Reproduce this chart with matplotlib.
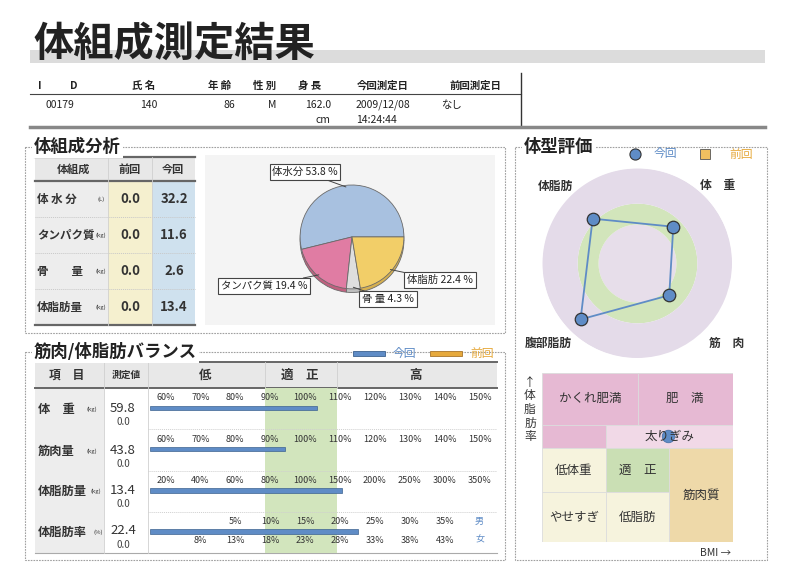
import numpy as np
import matplotlib
matplotlib.use("Agg")
import matplotlib.pyplot as plt
from matplotlib.patches import Rectangle

plt.rcParams['font.family'] = ['Noto Sans CJK JP', 'DejaVu Sans']

W, H = 800, 570

# header record
head_labels = ["I", "D", "氏 名", "年 齢", "性 別", "身 長", "今回測定日", "前回測定日"]
head_values = ["00179", "140", "86", "M", "162.0", "2009/12/08", "なし"]
head_values2 = ["", "", "", "", "cm", "14:24:44", ""]

# body composition table + pie
comp_labels = ["体 水 分", "タンパク質", "骨　　量", "体脂肪量"]
comp_units = ["(L)", "(kg)", "(kg)", "(kg)"]
comp_prev = [0.0, 0.0, 0.0, 0.0]
comp_now = [32.2, 11.6, 2.6, 13.4]
pie_labels = ["体水分", "タンパク質", "骨 量", "体脂肪"]
pie_pct = [53.8, 19.4, 4.3, 22.4]

# muscle / fat balance
bal_items = ["体　重", "筋肉量", "体脂肪量", "体脂肪率"]
bal_units = ["(kg)", "(kg)", "(kg)", "(%)"]
bal_now = [59.8, 43.8, 13.4, 22.4]
bal_prev = [0.0, 0.0, 0.0, 0.0]
bal_gauge = [4.84, 3.93, 5.56, 6.02]   # bar end, in scale slots (0-10)
weight_ticks = ["60%", "70%", "80%", "90%", "100%", "110%", "120%", "130%", "140%", "150%"]
muscle_ticks = weight_ticks
fatmass_ticks = ["20%", "40%", "60%", "80%", "100%", "150%", "200%", "250%", "300%", "350%"]
fatpct_male = ["", "", "5%", "10%", "15%", "20%", "25%", "30%", "35%", "男"]
fatpct_female = ["", "8%", "13%", "18%", "23%", "28%", "33%", "38%", "43%", "女"]

# body type radar
radar_axes = ["体重", "体脂肪", "腹部脂肪", "筋肉"]
radar_angles = [45, 135, 225, 315]
radar_now = [54, 66, 84, 48]
radar_rings = [0, 41, 63, 100]

# body type matrix (BMI x body fat)
zone_labels = ["かくれ肥満", "", "肥　満", "太りぎみ", "低体重", "適　正", "筋肉質", "やせすぎ", "低脂肪"]
zone_bmi = [(0, 1.5), (0, 1), (1.5, 3), (1, 3), (0, 1), (1, 2), (2, 3), (0, 1), (1, 2)]
zone_fat = [(2.5, 3.6), (2.0, 2.5), (2.5, 3.6), (2.0, 2.5), (1.06, 2.0), (1.06, 2.0),
            (0, 2.0), (0, 1.06), (0, 1.06)]
zone_colors = ["#e6b9d3", "#e6b9d3", "#e6b9d3", "#f1d9e7", "#f6f3dd", "#cadfb4",
               "#eed9a9", "#f6f3dd", "#f6f3dd"]
my_bmi, my_fat = 1.98, 2.26

BLUE = "#5f8cc6"
ORANGE = "#e6a93c"


def frac(x0, y0, x1, y1):
    return [x0 / W, 1 - y1 / H, (x1 - x0) / W, (y1 - y0) / H]


fig = plt.figure(figsize=(8, 5.7), dpi=100)
fig.patch.set_facecolor("white")
bg = fig.add_axes([0, 0, 1, 1])
bg.set_xlim(0, W)
bg.set_ylim(H, 0)
bg.axis("off")

# ---- title and header ----
bg.add_patch(Rectangle((30, 50), 735, 13, color="#dcdcdc", lw=0))
bg.text(33, 44, "体組成測定結果", fontsize=29, fontweight="bold", color="#222", va="center")

head_x = [38, 70, 132, 208, 253, 298, 357, 449]
for lab, x in zip(head_labels, head_x):
    bg.text(x, 86, lab, fontsize=7.5, fontweight="bold", color="#222", va="center")
val_x = [45, 140, 224, 268, 305, 356, 441]
for v, v2, x in zip(head_values, head_values2, val_x):
    bg.text(x, 105, v, fontsize=7.5, color="#222", va="center")
    if v2:
        bg.text(x + (10 if v2 == "cm" else 0), 120, v2, fontsize=7.5, color="#222", va="center")
bg.plot([30, 521], [94, 94], color="#444", lw=0.8)
bg.plot([521, 521], [73, 127], color="#333", lw=1)
bg.plot([30, 765], [127, 127], color="#888", lw=2.5)


def section(x0, y0, x1, y1, title):
    bg.add_patch(Rectangle((x0, y0), x1 - x0, y1 - y0, fill=False, ec="#a0a0a0",
                           lw=0.8, ls=(0, (1.5, 1))))
    bg.text(x0 + 9, y0, title, fontsize=12.5, fontweight="bold", color="#222",
            va="center", bbox=dict(fc="white", ec="none", pad=1.5))


section(25, 147, 505, 333, "体組成分析")
section(25, 352, 505, 560, "筋肉/体脂肪バランス")
section(515, 147, 767, 560, "体型評価")

# ---- body composition table ----
bg.add_patch(Rectangle((35, 157), 160, 24, color="#e8e8e8", lw=0))
bg.add_patch(Rectangle((35, 181), 73, 144, color="#ededed", lw=0))
bg.add_patch(Rectangle((108, 181), 44, 144, color="#f5f0cf", lw=0))
bg.add_patch(Rectangle((152, 181), 43, 144, color="#cfe1ee", lw=0))
for yy, lw in [(157, 1.6), (181, 1.6), (325, 1.6)]:
    bg.plot([35, 195], [yy, yy], color="#666", lw=lw)
for yy in [217, 253, 289]:
    bg.plot([35, 195], [yy, yy], color="#c8c8c8", lw=0.7, ls=(0, (1, 1)))
for xx in [108, 152]:
    bg.plot([xx, xx], [157, 325], color="#d0d0d0", lw=0.6)
bg.text(73, 169, "体組成", fontsize=8, fontweight="bold", color="#333", ha="center", va="center")
bg.text(130, 169, "前回", fontsize=8, fontweight="bold", color="#333", ha="center", va="center")
bg.text(173, 169, "今回", fontsize=8, fontweight="bold", color="#333", ha="center", va="center")
for i, (lab, unit, pv, nv) in enumerate(zip(comp_labels, comp_units, comp_prev, comp_now)):
    yc = 199 + 36 * i
    bg.text(37, yc, lab, fontsize=8.3, fontweight="bold", color="#333", va="center")
    bg.text(101, yc, unit, fontsize=4.3, color="#333", ha="center", va="center")
    bg.text(130, yc, f"{pv:.1f}", fontsize=9.5, fontweight="bold", color="#333", ha="center", va="center")
    bg.text(174, yc, f"{nv:.1f}", fontsize=9.5, fontweight="bold", color="#333", ha="center", va="center")

# ---- pie ----
bg.add_patch(Rectangle((205, 155), 290, 170, color="#f4f4f4", lw=0))
pie_colors = ["#a8c1e0", "#e07ca3", "#dedede", "#f2ce68"]
pie_dark = ["#8aa3c2", "#c0607f", "#bdbdbd", "#d6b050"]
pax = fig.add_axes(frac(300, 185, 404, 293))
wp = dict(edgecolor="#6a6a6a", linewidth=0.6)
pax.pie(pie_pct, colors=pie_dark, startangle=0, counterclock=True, center=(0, -0.07), wedgeprops=wp)
wedges, _ = pax.pie(pie_pct, colors=pie_colors, startangle=0, counterclock=True, wedgeprops=wp)
pax.set_xlim(-1, 1)
pax.set_ylim(-1.08, 1)
pax.axis("off")
box_pos = [(305, 172), (264, 286), (388, 299), (440, 280)]
for w, lab, pct, pos in zip(wedges, pie_labels, pie_pct, box_pos):
    mid = np.deg2rad((w.theta1 + w.theta2) / 2)
    pax.annotate(f"{lab} {pct} %", xy=(0.97 * np.cos(mid), 0.97 * np.sin(mid)),
                 xytext=pos, textcoords=bg.transData, ha="center", va="center",
                 fontsize=7.5, color="#222", annotation_clip=False,
                 bbox=dict(boxstyle="square,pad=0.25", fc="white", ec="#444", lw=0.8),
                 arrowprops=dict(arrowstyle="-", color="#444", lw=0.7, shrinkA=0, shrinkB=0))

# ---- balance table ----
bg.add_patch(Rectangle((35, 362), 462, 26, color="#e8e8e8", lw=0))
bg.add_patch(Rectangle((35, 388), 69, 165, color="#ededed", lw=0))
bg.plot([35, 497], [362, 362], color="#666", lw=1.4)
bg.plot([35, 497], [388, 388], color="#666", lw=1.4)
bg.plot([35, 497], [553, 553], color="#aaa", lw=0.8)
for xx in [104, 148]:
    bg.plot([xx, xx], [362, 553], color="#d0d0d0", lw=0.6)
for xx in [265, 337]:
    bg.plot([xx, xx], [362, 388], color="#d0d0d0", lw=0.6)
for txt, xx, fs in [("項　目", 67, 8.5), ("測定値", 126, 7), ("低", 205, 9), ("適　正", 300, 9), ("高", 415, 9)]:
    bg.text(xx, 375, txt, fontsize=fs, fontweight="bold", color="#333", ha="center", va="center")
# legend
bg.add_patch(Rectangle((353, 351), 32, 5, fc=BLUE, ec="#3d628f", lw=0.6))
bg.text(393, 353, "今回", fontsize=8.5, color=BLUE, va="center")
bg.add_patch(Rectangle((430, 351), 32, 5, fc=ORANGE, ec="#a9752a", lw=0.6))
bg.text(470, 353, "前回", fontsize=8.5, color=ORANGE, va="center")

row_top = [388, 430, 470, 511]
unit_x = [92, 92, 96, 98]
for i, (item, unit, nv, pv) in enumerate(zip(bal_items, bal_units, bal_now, bal_prev)):
    yc = row_top[i] + 21
    bg.text(38, yc, item, fontsize=8.8, fontweight="bold", color="#333", va="center")
    bg.text(unit_x[i], yc, unit, fontsize=4.3, color="#333", ha="center", va="center")
    bg.text(123, yc - 1, f"{nv:.1f}", fontsize=9.5, color="#333", ha="center", va="center")
    bg.text(123, yc + 13, f"{pv:.1f}", fontsize=7, color="#444", ha="center", va="center")

bax = fig.add_axes(frac(148, 388, 497, 553))
bax.set_xlim(0, 10)
bax.set_ylim(4, 0)
bax.axis("off")
bax.axvspan(3.35, 5.42, color="#d2e5bd", lw=0)
for r in [1, 2, 3]:
    bax.axhline(r, color="#cfcfcf", lw=0.7, ls=(0, (1, 1)))
slots = np.arange(10) + 0.5
for r, ticks in enumerate([weight_ticks, muscle_ticks, fatmass_ticks]):
    for x, t in zip(slots, ticks):
        bax.text(x, r + 0.24, t, fontsize=6.5, color="#333", ha="center", va="center")
for x, t in zip(slots, fatpct_male):
    bax.text(x, 3.24, t, fontsize=6.5, color=BLUE if t == "男" else "#333", ha="center", va="center")
for x, t in zip(slots, fatpct_female):
    bax.text(x, 3.69, t, fontsize=6.5, color=BLUE if t == "女" else "#333", ha="center", va="center")
rows = np.arange(len(bal_items)) + 0.48
bax.barh(rows, np.array(bal_gauge) - 0.06, left=0.06, height=0.11, color=BLUE,
         edgecolor="#3d628f", linewidth=0.5)

# ---- radar ----
for txt, (x, y) in zip(["体脂肪", "体　重", "腹部脂肪", "筋　肉"],
                       [(555, 186), (718, 186), (548, 343), (727, 343)]):
    bg.text(x, y, txt, fontsize=8.5, fontweight="bold", color="#333", ha="center", va="center")
bg.plot([635], [154], "o", ms=8, mfc=BLUE, mec="#333", mew=0.8)
bg.text(665, 154, "今回", fontsize=8.5, color=BLUE, ha="center", va="center")
bg.add_patch(Rectangle((700, 149), 10, 10, fc="#f0c060", ec="#555", lw=0.6))
bg.text(741, 154, "前回", fontsize=8.5, color=ORANGE, ha="center", va="center")

rax = fig.add_axes(frac(542, 168, 732, 358), projection="polar")
rax.set_ylim(0, 100)
rax.axis("off")
th = np.linspace(0, 2 * np.pi, 200)
for r0, r1, c in zip(radar_rings[:-1], radar_rings[1:], ["#e7deea", "#d2e5bb", "#e4dbe9"]):
    rax.fill_between(th, r0, r1, color=c, lw=0)
ang = np.deg2rad(radar_angles + radar_angles[:1])
vals = radar_now + radar_now[:1]
rax.plot(ang, vals, color=BLUE, lw=1.3)
rax.plot(ang[:-1], vals[:-1], "o", ms=9, mfc=BLUE, mec="#333", mew=0.9)

# ---- body type matrix ----
gax = fig.add_axes(frac(542, 373, 733, 542))
gax.set_xlim(0, 3)
gax.set_ylim(0, 3.6)
gax.axis("off")
for lab, (x0, x1), (y0, y1), c in zip(zone_labels, zone_bmi, zone_fat, zone_colors):
    gax.add_patch(Rectangle((x0, y0), x1 - x0, y1 - y0, fc=c, ec="#dcdcdc", lw=0.6))
for lab, (x0, x1), (y0, y1) in zip(zone_labels, zone_bmi, zone_fat):
    if lab:
        gax.text((x0 + x1) / 2, (y0 + y1) / 2, lab, fontsize=9, color="#333", ha="center", va="center")
gax.plot([my_bmi], [my_fat], "o", ms=9, mfc=BLUE, mec="#4a72a8", mew=0.6)
bg.text(530, 376, "↑\n体\n脂\n肪\n率", fontsize=8.5, color="#333", ha="center", va="top",
        linespacing=1.05)
bg.text(716, 553, "BMI →", fontsize=7.5, color="#333", ha="center", va="center")

fig.savefig("out.png", dpi=100, facecolor="white")
